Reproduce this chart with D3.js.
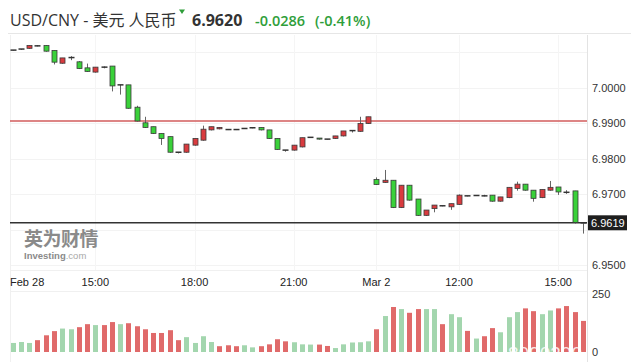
<!DOCTYPE html>
<html>
<head>
<meta charset="utf-8">
<script src="https://cdn.jsdelivr.net/npm/d3@7"></script>
<style>
body { margin: 0; background: #fff; }
</style>
</head>
<body>
<script>
var W = 631, H = 362;

// 15 minute candles, Feb 28 12:30 .. Mar 2 15:45
var opens  = [7.0106,7.0108,7.0111,7.0119,7.0119,7.0105,7.0069,7.0084,7.0073,7.0056,
              7.0044,7.0058,7.0061,7.0008,7.0008,6.9945,6.9901,6.9890,6.9871,6.9862,
              6.9818,6.9818,6.9838,6.9852,6.9881,6.9884,6.9882,6.9882,6.9885,6.9887,
              6.9888,6.9881,6.9857,6.9824,6.9824,6.9833,6.9860,6.9858,6.9855,6.9857,
              6.9864,6.9879,6.9877,6.9899,6.9741,6.9733,6.9739,6.9662,6.9725,6.9686,
              6.9640,6.9659,6.9667,6.9664,6.9671,6.9695,6.9696,6.9695,6.9697,6.9680,
              6.9690,6.9716,6.9728,6.9711,6.9690,6.9711,6.9720,6.9705,6.9709,6.9619];
var highs  = [7.0106,7.0109,7.0119,7.0120,7.0120,7.0105,7.0084,7.0089,7.0075,7.0068,
              7.0058,7.0060,7.0061,7.0008,7.0008,6.9949,6.9918,6.9890,6.9871,6.9862,
              6.9818,6.9841,6.9857,6.9893,6.9890,6.9889,6.9882,6.9882,6.9885,6.9887,
              6.9888,6.9881,6.9857,6.9824,6.9838,6.9859,6.9860,6.9858,6.9855,6.9864,
              6.9878,6.9879,6.9918,6.9918,6.9747,6.9768,6.9739,6.9725,6.9725,6.9686,
              6.9655,6.9669,6.9667,6.9673,6.9699,6.9695,6.9696,6.9698,6.9697,6.9692,
              6.9719,6.9735,6.9728,6.9711,6.9713,6.9737,6.9720,6.9711,6.9709,6.9619];
var lows   = [7.0106,7.0108,7.0111,7.0118,7.0103,7.0067,7.0069,7.0079,7.0054,7.0046,
              7.0044,7.0056,6.9991,6.9982,6.9942,6.9906,6.9888,6.9871,6.9840,6.9818,
              6.9816,6.9818,6.9838,6.9852,6.9881,6.9884,6.9882,6.9882,6.9885,6.9887,
              6.9881,6.9857,6.9826,6.9821,6.9824,6.9833,6.9860,6.9855,6.9855,6.9857,
              6.9864,6.9875,6.9877,6.9899,6.9727,6.9733,6.9662,6.9662,6.9683,6.9640,
              6.9640,6.9650,6.9667,6.9657,6.9671,6.9695,6.9696,6.9695,6.9680,6.9680,
              6.9690,6.9711,6.9711,6.9680,6.9690,6.9711,6.9699,6.9702,6.9618,6.9590];
var closes = [7.0106,7.0109,7.0119,7.0118,7.0103,7.0072,7.0084,7.0085,7.0054,7.0046,
              7.0058,7.0058,7.0005,7.0008,6.9942,6.9906,6.9888,6.9871,6.9857,6.9818,
              6.9818,6.9841,6.9857,6.9883,6.9890,6.9888,6.9882,6.9882,6.9885,6.9887,
              6.9881,6.9857,6.9826,6.9824,6.9838,6.9859,6.9860,6.9855,6.9855,6.9864,
              6.9878,6.9879,6.9899,6.9918,6.9727,6.9739,6.9662,6.9725,6.9683,6.9640,
              6.9655,6.9669,6.9667,6.9673,6.9697,6.9695,6.9696,6.9695,6.9680,6.9692,
              6.9719,6.9728,6.9711,6.9688,6.9713,6.9719,6.9706,6.9705,6.9620,6.9619];
var volumes = [39,43,39,51,72,90,101,98,107,120,
               116,116,129,120,124,111,98,82,82,94,
               51,64,39,68,43,25,29,25,29,20,
               25,33,55,46,42,33,32,32,26,17,
               33,41,42,46,98,155,194,185,169,185,
               185,185,120,163,150,91,58,68,103,85,
               150,172,188,176,163,179,188,198,172,134];

var priceTicks = [7.00, 6.99, 6.98, 6.97, 6.95];
var gridPrices = [7.01, 7.00, 6.99, 6.98, 6.97, 6.96, 6.95];
var timeIdx = [10, 22, 34, 44, 54, 66];
var timeLabels = ["15:00", "18:00", "21:00", "Mar 2", "12:00", "15:00"];
var firstLabel = "Feb 28";
var volTicks = [250, 0];
var prevClose = 6.9906;
var lastPrice = 6.9619;

var svg = d3.select("body").append("svg").attr("width", W).attr("height", H);

var x = d3.scaleLinear().domain([0, closes.length - 1]).range([12.7, 583]);
var y = d3.scaleLinear().domain([6.95, 7.00]).range([265, 87.7]);
var yv = d3.scaleLinear().domain([0, 250]).range([352, 294]);

var axisFont = "'Liberation Sans', Arial, sans-serif";
var headFont = "'Open Sans', 'Noto Sans', 'Noto Sans CJK SC', sans-serif";

// header
svg.append("text").attr("x", 10).attr("y", 26).attr("font-family", headFont)
    .attr("font-size", 16).attr("fill", "#333").text("USD/CNY - 美元 人民币");
svg.append("path").attr("d", "M179,9.5 L185,9.5 L182,14 Z").attr("fill", "#2f9e3a");
svg.append("text").attr("x", 192).attr("y", 26).attr("font-family", headFont)
    .attr("font-size", 16).attr("font-weight", "bold").attr("fill", "#333").text("6.9620");
svg.append("text").attr("x", 255).attr("y", 26).attr("font-family", headFont)
    .attr("font-size", 14.5).attr("font-weight", 600).attr("fill", "#2f9e3a").text("-0.0286");
svg.append("text").attr("x", 315).attr("y", 26).attr("font-family", headFont)
    .attr("font-size", 14.5).attr("font-weight", 600).attr("fill", "#2f9e3a").text("(-0.41%)");
svg.append("line").attr("x1", 8).attr("x2", W).attr("y1", 33.5).attr("y2", 33.5)
    .attr("stroke", "#e6e6e6");

// grid
svg.append("g").selectAll("line").data(gridPrices).enter().append("line")
    .attr("x1", 10).attr("x2", 587)
    .attr("y1", function(d){ return Math.round(y(d)) + 0.5; })
    .attr("y2", function(d){ return Math.round(y(d)) + 0.5; })
    .attr("stroke", "#f3f3f3");
svg.append("g").selectAll("line").data(timeIdx).enter().append("line")
    .attr("x1", function(d){ return Math.round(x(d)) + 0.5; })
    .attr("x2", function(d){ return Math.round(x(d)) + 0.5; })
    .attr("y1", 35).attr("y2", 270)
    .attr("stroke", "#f5f5f5");
svg.append("line").attr("x1", 10.5).attr("x2", 10.5).attr("y1", 35).attr("y2", 362).attr("stroke", "#f0f0f0");
svg.append("line").attr("x1", 10).attr("x2", 587).attr("y1", 270.5).attr("y2", 270.5).attr("stroke", "#f0f0f0");
svg.append("line").attr("x1", 10).attr("x2", 587).attr("y1", 291.5).attr("y2", 291.5).attr("stroke", "#f0f0f0");
svg.append("line").attr("x1", 587.5).attr("x2", 587.5).attr("y1", 35).attr("y2", 362).attr("stroke", "#e3e3e3");

// watermark
var wm = svg.append("g");
wm.append("text").attr("x", 24).attr("y", 246).attr("font-family", "'Noto Sans CJK SC', sans-serif")
    .attr("font-size", 19).attr("font-weight", "bold")
    .attr("fill", "#8a8a8a").attr("letter-spacing", -0.5).text("英为财情");
var wm2 = wm.append("text").attr("x", 24).attr("y", 259).attr("font-family", axisFont).attr("font-size", 9.5);
wm2.append("tspan").attr("font-weight", "bold").attr("fill", "#8a8a8a").text("Investing");
wm2.append("tspan").attr("fill", "#a8a8a8").text(".com");

// previous close line
svg.append("line").attr("x1", 10).attr("x2", 587)
    .attr("y1", y(prevClose)).attr("y2", y(prevClose))
    .attr("stroke", "#d25c5c").attr("stroke-width", 1.5);

// last price line
svg.append("line").attr("x1", 10).attr("x2", 587)
    .attr("y1", y(lastPrice)).attr("y2", y(lastPrice))
    .attr("stroke", "#333").attr("stroke-width", 1.5);

// candles
var idx = d3.range(closes.length);
var cg = svg.append("g");
cg.selectAll("line.wick").data(idx).enter().append("line").attr("class", "wick")
    .attr("x1", function(i){ return Math.round(x(i)) + 0.5; })
    .attr("x2", function(i){ return Math.round(x(i)) + 0.5; })
    .attr("y1", function(i){ return y(highs[i]); })
    .attr("y2", function(i){ return y(lows[i]) + 0.5; })
    .attr("stroke", "#666").attr("stroke-width", 1);

var flat = idx.filter(function(i){ return Math.abs(opens[i] - closes[i]) < 0.00025; });
var bodies = idx.filter(function(i){ return Math.abs(opens[i] - closes[i]) >= 0.00025; });

cg.selectAll("line.dash").data(flat).enter().append("line").attr("class", "dash")
    .attr("x1", function(i){ return Math.round(x(i)) - 2.5; })
    .attr("x2", function(i){ return Math.round(x(i)) + 3.5; })
    .attr("y1", function(i){ return y(closes[i]); })
    .attr("y2", function(i){ return y(closes[i]); })
    .attr("stroke", "#333").attr("stroke-width", 1.5);

cg.selectAll("rect").data(bodies).enter().append("rect")
    .attr("x", function(i){ return Math.round(x(i)) - 2; })
    .attr("width", 5)
    .attr("y", function(i){ return y(Math.max(opens[i], closes[i])); })
    .attr("height", function(i){ return Math.abs(y(opens[i]) - y(closes[i])); })
    .attr("fill", function(i){ return closes[i] > opens[i] ? "#d93b3f" : "#3ad13a"; })
    .attr("stroke", "#3a3a3a").attr("stroke-width", 0.8);

// right price axis
var yAxis = d3.axisRight(y).tickValues(priceTicks).tickFormat(d3.format(".4f")).tickSize(0).tickPadding(0);
var ya = svg.append("g").attr("transform", "translate(592,0)").call(yAxis);
ya.select(".domain").remove();
ya.selectAll("text").attr("font-family", axisFont).attr("font-size", 11).attr("fill", "#333");

// last price tag
svg.append("rect").attr("x", 588).attr("y", y(lastPrice) - 7.5).attr("width", 39).attr("height", 15).attr("fill", "#1e1e1e");
svg.append("text").attr("x", 591).attr("y", y(lastPrice) + 4).attr("font-family", axisFont)
    .attr("font-size", 11).attr("fill", "#fff").text(lastPrice.toFixed(4));

// time labels
var tg = svg.append("g").attr("font-family", axisFont).attr("font-size", 11).attr("fill", "#222");
tg.append("text").attr("x", 10).attr("y", 286).text(firstLabel);
tg.selectAll("text.t").data(timeIdx).enter().append("text").attr("class", "t")
    .attr("x", function(d){ return x(d); }).attr("y", 286).attr("text-anchor", "middle")
    .text(function(d, i){ return timeLabels[i]; });

// volume
svg.append("g").selectAll("rect").data(idx).enter().append("rect")
    .attr("x", function(i){ return Math.round(x(i)) - 2; })
    .attr("width", 5)
    .attr("y", function(i){ return yv(volumes[i]); })
    .attr("height", function(i){ return yv(0) - yv(volumes[i]); })
    .attr("fill", function(i){
        var up = i === 0 ? true : closes[i] > closes[i - 1];
        return up ? "#a3d6ae" : "#e06a6a";
    });

var vAxis = d3.axisRight(yv).tickValues(volTicks).tickSize(0).tickPadding(0);
var va = svg.append("g").attr("transform", "translate(592,0)").call(vAxis);
va.select(".domain").remove();
va.selectAll("text").attr("font-family", axisFont).attr("font-size", 11).attr("fill", "#333");

// faint overlay number
svg.append("text").attr("x", 508).attr("y", 360).attr("font-family", axisFont).attr("font-size", 19)
    .attr("fill", "#fff").attr("fill-opacity", 0.85).text("8090300");
</script>
</body>
</html>
